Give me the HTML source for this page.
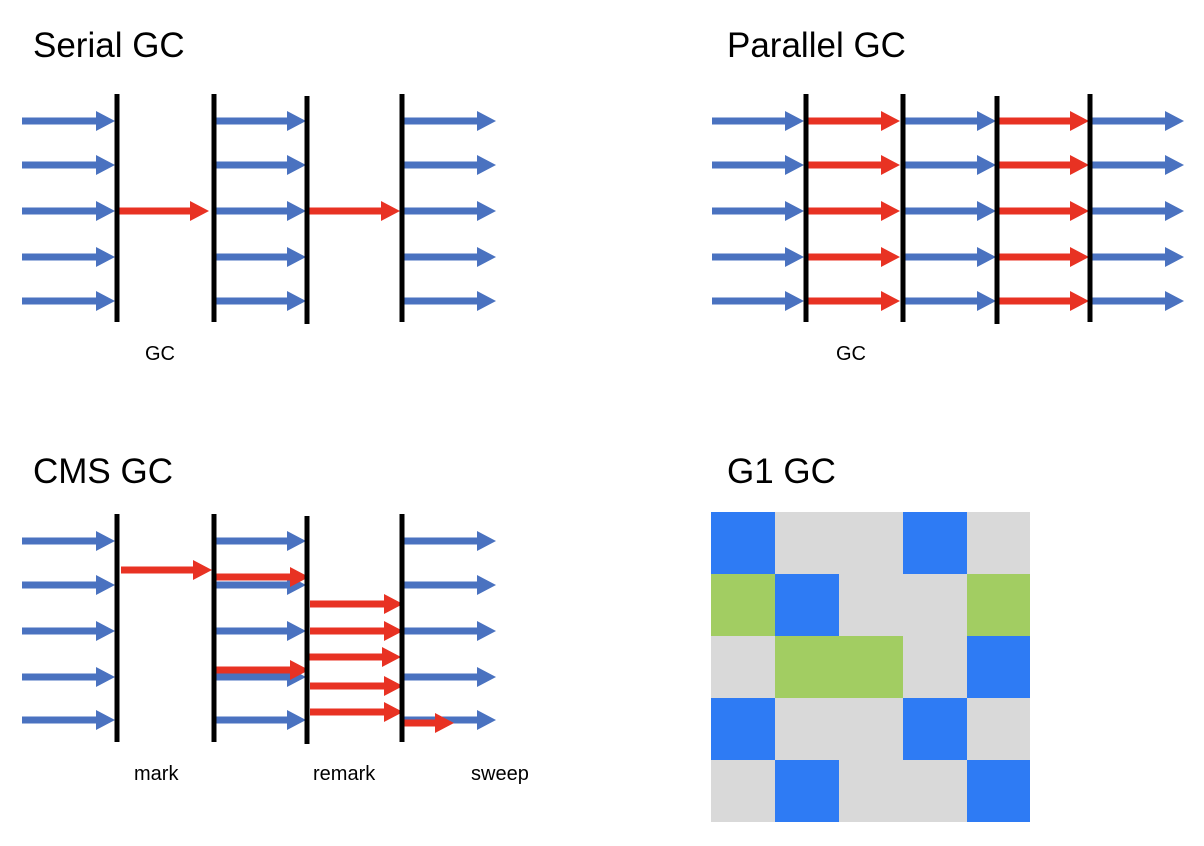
<!DOCTYPE html>
<html><head><meta charset="utf-8"><style>html,body{margin:0;padding:0;background:#fff}svg{display:block}text{font-family:"Liberation Sans",sans-serif;fill:#000}</style></head><body>
<svg width="1204" height="846" viewBox="0 0 1204 846" xmlns="http://www.w3.org/2000/svg">
<defs>
<marker id="b" markerUnits="userSpaceOnUse" markerWidth="20" markerHeight="22" refX="0" refY="10" orient="auto"><polygon points="0,0 19,10 0,20" fill="#4a72c0"/></marker>
<marker id="r" markerUnits="userSpaceOnUse" markerWidth="20" markerHeight="22" refX="0" refY="10" orient="auto"><polygon points="0,0 19,10 0,20" fill="#e83223"/></marker>
</defs>
<g font-size="35">
<text x="33" y="57">Serial GC</text>
<text x="727" y="57">Parallel GC</text>
<text x="33" y="483">CMS GC</text>
<text x="727" y="483">G1 GC</text>
</g>
<g font-size="20">
<text x="145" y="360">GC</text>
<text x="836" y="360">GC</text>
<text x="134" y="780">mark</text>
<text x="313" y="780">remark</text>
<text x="471" y="780">sweep</text>
</g>
<g stroke-width="7">
<!-- Serial -->
<g stroke="#4a72c0" marker-end="url(#b)">
<line x1="22" y1="121" x2="96" y2="121"/><line x1="22" y1="165" x2="96" y2="165"/><line x1="22" y1="211" x2="96" y2="211"/><line x1="22" y1="257" x2="96" y2="257"/><line x1="22" y1="301" x2="96" y2="301"/>
<line x1="215" y1="121" x2="287" y2="121"/><line x1="215" y1="165" x2="287" y2="165"/><line x1="215" y1="211" x2="287" y2="211"/><line x1="215" y1="257" x2="287" y2="257"/><line x1="215" y1="301" x2="287" y2="301"/>
<line x1="403" y1="121" x2="477" y2="121"/><line x1="403" y1="165" x2="477" y2="165"/><line x1="403" y1="211" x2="477" y2="211"/><line x1="403" y1="257" x2="477" y2="257"/><line x1="403" y1="301" x2="477" y2="301"/>
</g>
<g stroke="#e83223" marker-end="url(#r)">
<line x1="119" y1="211" x2="190" y2="211"/><line x1="309" y1="211" x2="381" y2="211"/>
</g>
<!-- Parallel -->
<g stroke="#4a72c0" marker-end="url(#b)">
<line x1="712" y1="121" x2="785" y2="121"/><line x1="712" y1="165" x2="785" y2="165"/><line x1="712" y1="211" x2="785" y2="211"/><line x1="712" y1="257" x2="785" y2="257"/><line x1="712" y1="301" x2="785" y2="301"/>
<line x1="905" y1="121" x2="977" y2="121"/><line x1="905" y1="165" x2="977" y2="165"/><line x1="905" y1="211" x2="977" y2="211"/><line x1="905" y1="257" x2="977" y2="257"/><line x1="905" y1="301" x2="977" y2="301"/>
<line x1="1092" y1="121" x2="1165" y2="121"/><line x1="1092" y1="165" x2="1165" y2="165"/><line x1="1092" y1="211" x2="1165" y2="211"/><line x1="1092" y1="257" x2="1165" y2="257"/><line x1="1092" y1="301" x2="1165" y2="301"/>
</g>
<g stroke="#e83223" marker-end="url(#r)">
<line x1="808" y1="121" x2="881" y2="121"/><line x1="808" y1="165" x2="881" y2="165"/><line x1="808" y1="211" x2="881" y2="211"/><line x1="808" y1="257" x2="881" y2="257"/><line x1="808" y1="301" x2="881" y2="301"/>
<line x1="999" y1="121" x2="1070" y2="121"/><line x1="999" y1="165" x2="1070" y2="165"/><line x1="999" y1="211" x2="1070" y2="211"/><line x1="999" y1="257" x2="1070" y2="257"/><line x1="999" y1="301" x2="1070" y2="301"/>
</g>
<!-- CMS -->
<g stroke="#4a72c0" marker-end="url(#b)">
<line x1="22" y1="541" x2="96" y2="541"/><line x1="22" y1="585" x2="96" y2="585"/><line x1="22" y1="631" x2="96" y2="631"/><line x1="22" y1="677" x2="96" y2="677"/><line x1="22" y1="720" x2="96" y2="720"/>
<line x1="215" y1="541" x2="287" y2="541"/><line x1="215" y1="585" x2="287" y2="585"/><line x1="215" y1="631" x2="287" y2="631"/><line x1="215" y1="677" x2="287" y2="677"/><line x1="215" y1="720" x2="287" y2="720"/>
<line x1="403" y1="541" x2="477" y2="541"/><line x1="403" y1="585" x2="477" y2="585"/><line x1="403" y1="631" x2="477" y2="631"/><line x1="403" y1="677" x2="477" y2="677"/><line x1="403" y1="720" x2="477" y2="720"/>
</g>
<g stroke="#e83223" marker-end="url(#r)">
<line x1="121" y1="570" x2="193" y2="570"/>
<line x1="216" y1="577" x2="290" y2="577"/><line x1="216" y1="670" x2="290" y2="670"/>
<line x1="310" y1="604" x2="384" y2="604"/><line x1="310" y1="631" x2="384" y2="631"/><line x1="308" y1="657" x2="382" y2="657"/><line x1="310" y1="686" x2="384" y2="686"/><line x1="310" y1="712" x2="384" y2="712"/>
<line x1="403" y1="723" x2="435" y2="723"/>
</g>
</g>
<g stroke="#000" stroke-width="5">
<line x1="117" y1="94" x2="117" y2="322"/><line x1="214" y1="94" x2="214" y2="322"/><line x1="307" y1="96" x2="307" y2="324"/><line x1="402" y1="94" x2="402" y2="322"/>
<line x1="806" y1="94" x2="806" y2="322"/><line x1="903" y1="94" x2="903" y2="322"/><line x1="997" y1="96" x2="997" y2="324"/><line x1="1090" y1="94" x2="1090" y2="322"/>
<line x1="117" y1="514" x2="117" y2="742"/><line x1="214" y1="514" x2="214" y2="742"/><line x1="307" y1="516" x2="307" y2="744"/><line x1="402" y1="514" x2="402" y2="742"/>
</g>
<!-- G1 grid -->
<g>
<rect x="711" y="512" width="319" height="310" fill="#d9d9d9"/>
<g fill="#2e7bf4">
<rect x="711" y="512" width="64" height="62"/><rect x="903" y="512" width="64" height="62"/>
<rect x="775" y="574" width="64" height="62"/>
<rect x="967" y="636" width="63" height="62"/>
<rect x="711" y="698" width="64" height="62"/><rect x="903" y="698" width="64" height="62"/>
<rect x="775" y="760" width="64" height="62"/><rect x="967" y="760" width="63" height="62"/>
</g>
<g fill="#a2cd62">
<rect x="711" y="574" width="64" height="62"/><rect x="967" y="574" width="63" height="62"/>
<rect x="775" y="636" width="128" height="62"/>
</g>
</g>
</svg>
</body></html>
